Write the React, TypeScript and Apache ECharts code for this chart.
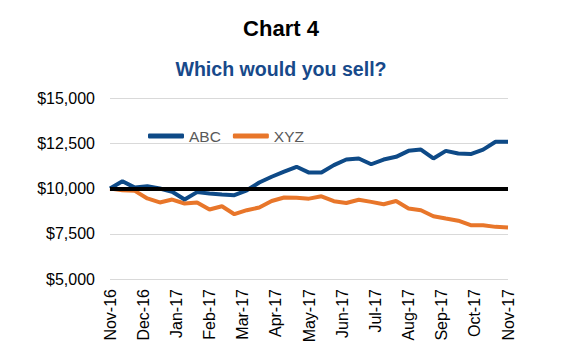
import React, { useEffect, useRef } from "react";
import * as echarts from "echarts";

const monthLabels = [
  "Nov-16", "Dec-16", "Jan-17", "Feb-17", "Mar-17", "Apr-17", "May-17",
  "Jun-17", "Jul-17", "Aug-17", "Sep-17", "Oct-17", "Nov-17",
];

const abcValues = [
  10000, 10400, 10050, 10130, 10000, 9820, 9390, 9800, 9720, 9670, 9630, 9900,
  10330, 10650, 10930, 11200, 10880, 10880, 11290, 11600, 11660, 11340, 11600,
  11750, 12080, 12150, 11660, 12080, 11930, 11900, 12150, 12580, 12580,
];

const xyzValues = [
  10000, 9900, 9870, 9450, 9230, 9390, 9170, 9230, 8840, 9020, 8580, 8800,
  8950, 9310, 9500, 9490, 9440, 9570, 9300, 9200, 9380, 9260, 9130, 9310,
  8900, 8800, 8470, 8340, 8220, 7970, 7970, 7880, 7850,
];

const yTicks = [5000, 7500, 10000, 12500, 15000];
const baseline = 10000;

const BLUE = "#0E4A87";
const ORANGE = "#E8762A";

export default function App() {
  const ref = useRef<HTMLDivElement>(null);
  useEffect(() => {
    if (!ref.current) return;
    const chart = echarts.init(ref.current, null, { renderer: "svg" });
    const n = abcValues.length;
    const span = monthLabels.length - 1;
    const toPairs = (arr: number[]) => arr.map((v, i) => [(i * span) / (n - 1), v]);
    chart.setOption({
      animation: false,
      textStyle: { fontFamily: "Liberation Sans, Arial, sans-serif" },
      title: [
        {
          text: "Chart 4",
          left: 276,
          textAlign: "center",
          top: 12,
          textStyle: { fontSize: 22, fontWeight: "bold", color: "#000" },
        },
        {
          text: "Which would you sell?",
          left: 276,
          textAlign: "center",
          top: 54,
          textStyle: { fontSize: 19.6, fontWeight: "bold", color: "#17498A" },
        },
      ],
      legend: {
        left: 143,
        top: 123,
        icon: "roundRect",
        itemWidth: 36,
        itemHeight: 5,
        itemGap: 12,
        textStyle: { fontSize: 15.5, color: "#595959" },
        data: ["ABC", "XYZ"],
      },
      grid: { left: 110, right: 59, top: 98, bottom: 79, containLabel: false },
      xAxis: {
        type: "value",
        min: 0,
        max: span,
        interval: 1,
        axisLine: { show: false },
        axisTick: { show: false },
        splitLine: { show: false },
        axisLabel: {
          rotate: 90,
          margin: 10,
          fontSize: 16,
          color: "#000",
          formatter: (v: number) => monthLabels[Math.round(v)] ?? "",
        },
      },
      yAxis: {
        type: "value",
        min: yTicks[0],
        max: yTicks[yTicks.length - 1],
        interval: 2500,
        axisLine: { show: false },
        axisTick: { show: false },
        splitLine: { lineStyle: { color: "#D9D9D9", width: 1 } },
        axisLabel: {
          fontSize: 16,
          color: "#000",
          margin: 15,
          formatter: (v: number) => "$" + v.toLocaleString("en-US"),
        },
      },
      series: [
        {
          name: "ABC",
          type: "line",
          data: toPairs(abcValues),
          symbol: "none",
          lineStyle: { color: BLUE, width: 4 },
          itemStyle: { color: BLUE },
          z: 3,
          markLine: {
            silent: true,
            symbol: "none",
            label: { show: false },
            lineStyle: { color: "#000", width: 4, type: "solid" },
            data: [{ yAxis: baseline }],
            z: 4,
          },
        },
        {
          name: "XYZ",
          type: "line",
          data: toPairs(xyzValues),
          symbol: "none",
          lineStyle: { color: ORANGE, width: 4 },
          itemStyle: { color: ORANGE },
          z: 2,
        },
      ],
    });
    return () => chart.dispose();
  }, []);
  return (
    <div
      ref={ref}
      style={{ position: "fixed", left: 0, top: 0, width: 567, height: 358, background: "#fff" }}
    />
  );
}
